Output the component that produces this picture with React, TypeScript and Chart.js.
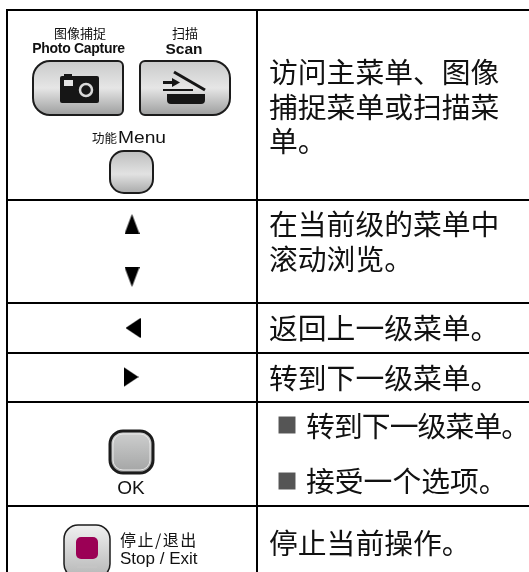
import React, { useEffect, useRef } from "react";
import { Chart, registerables } from "chart.js";

Chart.register(...registerables);

const W = 529;
const H = 572;
const ruleYs = [10, 200, 303, 353, 402, 506];
const columnXs = [7, 257];
const arrowXs = [132, 132, 133, 131];
const arrowYs = [224, 277, 328, 377];
const arrowRotations = [0, 180, -90, 90];
const bulletXs = [287, 287];
const bulletYs = [425, 481];

const bodyLabels: [string, number, number, number][] = [
  ["访问主菜单、图像", 269, 72, 0],
  ["捕捉菜单或扫描菜", 269, 107, 0],
  ["单。", 269, 141, 0],
  ["在当前级的菜单中", 269, 224, 0],
  ["滚动浏览。", 269, 259, 0],
  ["返回上一级菜单。", 269, 328, 0],
  ["转到下一级菜单。", 269, 378, 0],
  ["转到下一级菜单。", 306, 426, -0.9],
  ["接受一个选项。", 306, 481, 0],
  ["停止当前操作。", 269, 543, 0],
];

// text, x, y, font, align, letter spacing, horizontal stretch
const smallLabels: [string, number, number, string, string, number, number][] = [
  ["图像捕捉", 80, 33, "13px 'Noto Sans CJK SC'", "center", 0, 1],
  ["扫描", 185, 33, "13px 'Noto Sans CJK SC'", "center", 0, 1],
  ["Photo Capture", 78.5, 49, "bold 14px 'Liberation Sans'", "center", -0.3, 1],
  ["Scan", 184, 50, "bold 15.5px 'Liberation Sans'", "center", 0, 1],
  ["功能", 92, 138, "12.5px 'Noto Sans CJK SC'", "left", 0, 1],
  ["Menu", 118, 139, "16px 'Liberation Sans'", "left", 0, 1.2],
  ["OK", 131, 489, "19px 'Liberation Sans'", "center", 0, 1],
  ["停止/退出", 120, 540, "16px 'Noto Sans CJK SC'", "left", 1.5, 1],
  ["Stop / Exit", 120, 559, "17px 'Liberation Sans'", "left", 0, 1],
];

function roundRect(ctx: CanvasRenderingContext2D, x0: number, y0: number, x1: number, y1: number, r: [number, number, number, number]) {
  ctx.beginPath();
  ctx.roundRect(x0, y0, x1 - x0, y1 - y0, r);
}

function button(
  ctx: CanvasRenderingContext2D,
  x0: number, y0: number, x1: number, y1: number,
  r: [number, number, number, number],
  stops: [number, string][],
  lw: number,
) {
  const g = ctx.createLinearGradient(0, y0, 0, y1);
  stops.forEach(([p, c]) => g.addColorStop(p, c));
  roundRect(ctx, x0, y0, x1, y1, r);
  ctx.fillStyle = g;
  ctx.fill();
  ctx.lineWidth = lw;
  ctx.strokeStyle = "#1c1c1c";
  ctx.stroke();
}

const sheen: [number, string][] = [[0, "#c9caca"], [0.5, "#e6e6e6"], [1, "#9d9e9e"]];
const soft: [number, string][] = [[0, "#bdbebe"], [0.55, "#e2e2e2"], [1, "#a9aaaa"]];
const okFill: [number, string][] = [[0, "#cfd0d0"], [1, "#a3a4a4"]];
const stopFill: [number, string][] = [[0, "#f0f0f0"], [1, "#b5b6b6"]];

const panelPlugin = {
  id: "panel",
  afterDatasetsDraw(chart: any) {
    const ctx: CanvasRenderingContext2D = chart.ctx;
    ctx.save();
    button(ctx, 33, 61, 123, 115, [17, 5, 5, 17], sheen, 2);
    button(ctx, 140, 61, 230, 115, [5, 17, 17, 5], sheen, 2);
    button(ctx, 110, 151, 153, 193, [14, 14, 14, 14], soft, 2);
    button(ctx, 110, 431, 153, 473, [13, 13, 13, 13], okFill, 3);
    roundRect(ctx, 113, 434, 150, 470, [10, 10, 10, 10]);
    ctx.lineWidth = 1;
    ctx.strokeStyle = "#e8e8e8";
    ctx.stroke();
    button(ctx, 64, 525, 110, 578, [14, 14, 14, 14], stopFill, 1.5);
    roundRect(ctx, 76, 537, 98, 559, [5, 5, 5, 5]);
    ctx.fillStyle = "#9b0055";
    ctx.fill();
    ctx.fillStyle = "#c4c4c4";
    ctx.fillRect(77, 566, 20, 2);

    // camera glyph
    ctx.fillStyle = "#161616";
    ctx.beginPath();
    ctx.roundRect(60, 76, 39, 27, 2);
    ctx.fill();
    ctx.fillRect(64, 74, 8, 4);
    ctx.fillStyle = "#e4e4e4";
    ctx.fillRect(64, 80, 9, 6);
    ctx.strokeStyle = "#d8d8d8";
    ctx.lineWidth = 2.5;
    ctx.beginPath();
    ctx.arc(86, 90, 6, 0, Math.PI * 2);
    ctx.stroke();

    // scanner glyph
    ctx.strokeStyle = "#161616";
    ctx.lineWidth = 3;
    ctx.beginPath();
    ctx.moveTo(174, 72);
    ctx.lineTo(205, 90);
    ctx.stroke();
    ctx.lineWidth = 2;
    ctx.beginPath();
    ctx.moveTo(163, 90);
    ctx.lineTo(193, 90);
    ctx.stroke();
    ctx.fillStyle = "#161616";
    ctx.fillRect(163, 81, 10, 3);
    ctx.beginPath();
    ctx.moveTo(172, 78);
    ctx.lineTo(180, 82.5);
    ctx.lineTo(172, 87);
    ctx.closePath();
    ctx.fill();
    ctx.beginPath();
    ctx.roundRect(167, 94, 38, 10, [0, 0, 4, 4]);
    ctx.fill();

    // labels
    ctx.textBaseline = "middle";
    ctx.fillStyle = "#111";
    smallLabels.forEach(([t, x, y, f, a, ls, sx]) => {
      ctx.save();
      ctx.font = f;
      ctx.textAlign = a as CanvasTextAlign;
      (ctx as any).letterSpacing = `${ls}px`;
      ctx.translate(x, y);
      ctx.scale(sx, 1);
      ctx.fillText(t, 0, 0);
      ctx.restore();
    });
    ctx.textAlign = "left";
    ctx.font = "28.8px 'Noto Sans CJK SC'";
    bodyLabels.forEach(([t, x, y, ls]) => {
      (ctx as any).letterSpacing = `${ls}px`;
      ctx.fillText(t, x, y);
    });
    ctx.restore();
  },
};

function triangleSprite(w: number, h: number) {
  const c = document.createElement("canvas");
  c.width = w;
  c.height = h;
  const t = c.getContext("2d")!;
  t.fillStyle = "#000";
  t.beginPath();
  t.moveTo(w / 2, 0);
  t.lineTo(w, h);
  t.lineTo(0, h);
  t.closePath();
  t.fill();
  return c;
}

export default function App() {
  const ref = useRef<HTMLCanvasElement>(null);
  useEffect(() => {
    document.body.style.margin = "0";
    document.body.style.background = "#fff";
    const tall = triangleSprite(15, 20);
    const wide = triangleSprite(20, 15);
    const rule = (pts: { x: number; y: number }[]) => ({
      type: "scatter" as const,
      data: pts,
      showLine: true,
      borderColor: "#000",
      borderWidth: 2,
      pointRadius: 0,
      clip: false as const,
    });
    const horizontal = ruleYs.map((y) => rule([{ x: columnXs[0] - 1, y }, { x: W, y }]));
    const vertical = columnXs.map((x) => rule([{ x, y: ruleYs[0] }, { x, y: H }]));
    const chart = new Chart(ref.current!, {
      type: "scatter",
      data: {
        datasets: [
          ...horizontal,
          ...vertical,
          {
            data: arrowXs.map((x, i) => ({ x, y: arrowYs[i] })),
            pointStyle: [tall, tall, wide, wide],
            rotation: arrowRotations,
            pointRadius: 10,
          },
          {
            data: bulletXs.map((x, i) => ({ x, y: bulletYs[i] })),
            pointStyle: "rect",
            pointRadius: 12,
            backgroundColor: "#555",
            borderWidth: 0,
          },
        ],
      } as any,
      options: {
        responsive: false,
        animation: false,
        layout: { padding: 0, autoPadding: false },
        plugins: { legend: { display: false }, tooltip: { enabled: false } },
        scales: {
          x: { type: "linear", min: 0, max: W, display: false },
          y: { type: "linear", min: 0, max: H, reverse: true, display: false },
        },
      },
      plugins: [panelPlugin],
    });
    return () => chart.destroy();
  }, []);
  return (
    <div style={{ width: W, height: H }}>
      <canvas ref={ref} width={W} height={H} style={{ display: "block" }} />
    </div>
  );
}
